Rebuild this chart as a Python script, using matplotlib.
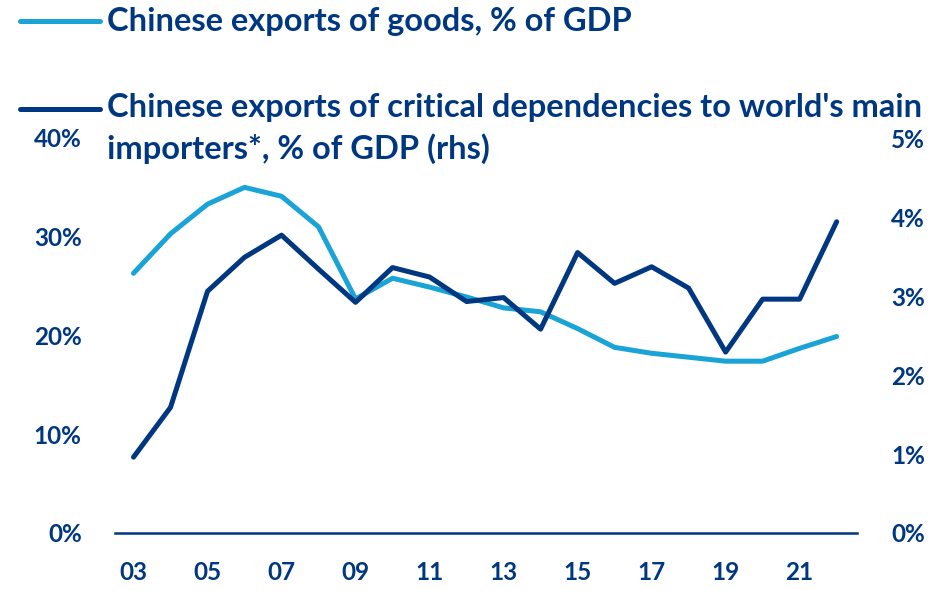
import matplotlib
matplotlib.use("Agg")
import matplotlib.pyplot as plt
from matplotlib.lines import Line2D
from matplotlib.ticker import FuncFormatter

# data
years = list(range(2003, 2023))
goods_exports = [26.3, 30.3, 33.3, 35.0, 34.1, 31.0, 23.7, 25.8, 24.9, 23.9,
                 22.8, 22.4, 20.7, 18.8, 18.2, 17.8, 17.4, 17.4, 18.7, 19.9]
critical_exports = [0.96, 1.59, 3.06, 3.49, 3.77, 3.34, 2.92, 3.36, 3.24, 2.93,
                    2.98, 2.58, 3.55, 3.16, 3.37, 3.10, 2.29, 2.96, 2.96, 3.94]
xtick_years = list(range(2003, 2022, 2))
left_ticks = [0, 10, 20, 30, 40]
right_ticks = [0, 1, 2, 3, 4, 5]

navy = "#003781"
light = "#1AA3D6"
plt.rcParams['font.family'] = ['Lato', 'DejaVu Sans']
plt.rcParams['font.weight'] = 'bold'

fig = plt.figure(figsize=(9.49, 5.91), dpi=100)
W, H = 949, 591
ax = fig.add_axes([115 / W, (H - 533) / H, (857 - 115) / W, (533 - 138) / H])
ax2 = ax.twinx()

ax.plot(years, goods_exports, color=light, lw=3.6, solid_capstyle='round', zorder=2)
ax2.plot(years, critical_exports, color=navy, lw=3.6, solid_capstyle='round', zorder=3)

ax.set_xlim(2002.5, 2022.55)
ax.set_ylim(0, 40)
ax2.set_ylim(0, 5)

ax.set_xticks(xtick_years)
ax.set_xticklabels([f"{y % 100:02d}" for y in xtick_years])
ax.set_yticks(left_ticks)
ax.yaxis.set_major_formatter(FuncFormatter(lambda v, p: f"{v:.0f}%"))
ax2.set_yticks(right_ticks)
ax2.yaxis.set_major_formatter(FuncFormatter(lambda v, p: f"{v:.0f}%"))

for a in (ax, ax2):
    for s in a.spines.values():
        s.set_visible(False)
    a.tick_params(length=0, labelsize=17.5, labelcolor=navy)
    a.patch.set_visible(False)
ax.spines['bottom'].set_visible(True)
ax.spines['bottom'].set_color(navy)
ax.spines['bottom'].set_linewidth(1.8)
ax.tick_params(axis='x', pad=20)
ax.tick_params(axis='y', pad=24)
ax2.tick_params(axis='y', pad=49)
for lab in ax2.get_yticklabels():
    lab.set_horizontalalignment('right')

# legend drawn by hand at the top
fig.add_artist(Line2D([20 / W, 100 / W], [1 - 21 / H, 1 - 21 / H], color=light, lw=3.6,
                      solid_capstyle='round'))
fig.text(107 / W, 1 - 21 / H, "Chinese exports of goods, % of GDP", color=navy,
         fontsize=23.5, va='center', ha='left')
fig.add_artist(Line2D([20 / W, 100 / W], [1 - 109 / H, 1 - 109 / H], color=navy, lw=3.6,
                      solid_capstyle='round'))
fig.text(107 / W, 1 - 108 / H, "Chinese exports of critical dependencies to world's main",
         color=navy, fontsize=23.5, va='center', ha='left')
fig.text(107 / W, 1 - 149 / H, "importers*, % of GDP (rhs)",
         color=navy, fontsize=23.5, va='center', ha='left')

fig.savefig("out.png", dpi=100)
